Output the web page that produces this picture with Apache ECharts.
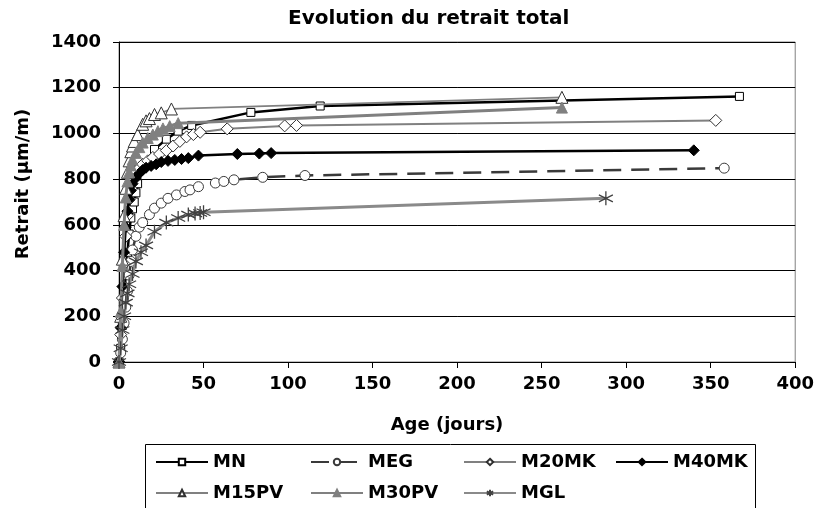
<!DOCTYPE html>
<html>
<head>
<meta charset="utf-8">
<script src="https://cdn.jsdelivr.net/npm/echarts@6/dist/echarts.min.js"></script>
<style>
  html, body { margin: 0; padding: 0; background: #fff; }
  #chart { width: 817px; height: 508px; }
</style>
</head>
<body>
<div id="chart"></div>
<script>
// ---------- data ----------
const seriesNames = ['MN', 'MEG', 'M20MK', 'M40MK', 'M15PV', 'M30PV', 'MGL'];

const mnDays   = [0, 1, 2, 3, 4, 5, 6, 7, 8, 9, 10, 11, 14, 21, 28, 35, 43, 78, 119, 367];
const mnVals   = [0, 60, 160, 280, 380, 480, 560, 630, 670, 700, 740, 780, 850, 930, 975, 1010, 1035, 1092, 1120, 1162];

const megDays  = [0, 1, 2, 3, 4, 5, 6, 7, 8, 10, 12, 14, 18, 21, 25, 29, 34, 39, 42, 47, 57, 62, 68, 85, 110, 358];
const megVals  = [0, 40, 100, 170, 240, 310, 380, 440, 490, 550, 590, 610, 645, 673, 695, 716, 731, 746, 753, 767, 783, 790, 797, 808, 816, 848];

const m20Days  = [0, 1, 2, 3, 4, 5, 6, 7, 8, 10, 12, 14, 17, 20, 24, 28, 32, 36, 40, 44, 48, 64, 98, 105, 353];
const m20Vals  = [0, 120, 280, 430, 550, 640, 710, 760, 800, 830, 850, 865, 880, 895, 910, 925, 945, 965, 985, 995, 1005, 1020, 1033, 1035, 1057];

const m40Days  = [0, 1, 2, 3, 4, 5, 6, 7, 8, 10, 12, 14, 16, 19, 22, 25, 29, 33, 37, 41, 47, 70, 83, 90, 340];
const m40Vals  = [0, 150, 330, 480, 590, 660, 710, 750, 780, 805, 825, 840, 850, 858, 865, 875, 880, 884, 888, 892, 903, 910, 912, 914, 926];

const m15Days  = [0, 1, 2, 3, 4, 5, 6, 7, 8, 9, 11, 14, 16, 18, 21, 25, 31, 262];
const m15Vals  = [0, 200, 450, 640, 760, 830, 880, 920, 945, 965, 995, 1040, 1055, 1065, 1083, 1090, 1107, 1158];

const m30Days  = [0, 1, 2, 3, 4, 5, 6, 7, 8, 10, 12, 14, 17, 20, 23, 26, 30, 35, 262];
const m30Vals  = [0, 220, 420, 600, 720, 790, 830, 860, 885, 915, 940, 960, 980, 995, 1010, 1022, 1032, 1045, 1113];

const mglDays  = [0, 1, 2, 3, 4, 5, 6, 8, 10, 13, 16, 21, 28, 35, 41, 45, 48, 50, 288];
const mglVals  = [0, 60, 140, 200, 260, 300, 340, 385, 440, 480, 510, 570, 610, 630, 645, 650, 652, 655, 716];

const xTicks = { min: 0, max: 400, step: 50 };
const yTicks = { min: 0, max: 1400, step: 200 };

// ---------- helpers ----------
function pairs(xs, ys) { return xs.map((x, i) => [x, ys[i]]); }

const FONT = 'DejaVu Sans';
const asterisk = 'path://M10 0 L10 20 M1.34 5 L18.66 15 M1.34 15 L18.66 5';

const styles = [
  { data: pairs(mnDays, mnVals),   line: { color: '#000000', width: 2.5 }, symbol: 'rect',     size: 8,  item: { color: '#ffffff', borderColor: '#000000', borderWidth: 1 } },
  { data: pairs(megDays, megVals), line: { color: '#3a3a3a', width: 2.5, type: [18, 10] }, symbol: 'circle', size: 10, item: { color: '#ffffff', borderColor: '#3a3a3a', borderWidth: 1 } },
  { data: pairs(m20Days, m20Vals), line: { color: '#808080', width: 2 },   symbol: 'diamond',  size: 12, item: { color: '#ffffff', borderColor: '#303030', borderWidth: 1 } },
  { data: pairs(m40Days, m40Vals), line: { color: '#000000', width: 2.5 }, symbol: 'diamond',  size: 11, item: { color: '#000000', borderColor: '#000000', borderWidth: 1 } },
  { data: pairs(m15Days, m15Vals), line: { color: '#808080', width: 1.8 }, symbol: 'triangle', size: 12, item: { color: '#ffffff', borderColor: '#303030', borderWidth: 1 } },
  { data: pairs(m30Days, m30Vals), line: { color: '#808080', width: 3 },   symbol: 'triangle', size: 11, item: { color: '#808080', borderColor: '#808080', borderWidth: 1 } },
  { data: pairs(mglDays, mglVals), line: { color: '#8a8a8a', width: 3 },   symbol: asterisk,   size: 14, item: { color: 'rgba(0,0,0,0)', borderColor: '#404040', borderWidth: 1.3 } }
];

const series = seriesNames.map((name, i) => ({
  name: name,
  type: 'line',
  data: styles[i].data,
  symbol: styles[i].symbol,
  symbolSize: styles[i].size,
  showSymbol: true,
  showAllSymbol: true,
  lineStyle: styles[i].line,
  itemStyle: styles[i].item,
  emphasis: { disabled: true },
  z: 2 + i
}));

const legendCols = [155, 310, 463, 615];
const legendRows = [453, 484];
const legends = seriesNames.map((name, i) => ({
  data: [name],
  left: legendCols[i % 4],
  top: legendRows[Math.floor(i / 4)],
  padding: 0,
  itemWidth: 52,
  itemHeight: 8,
  itemGap: 0,
  selectedMode: false,
  textStyle: { fontFamily: FONT, fontWeight: 'bold', fontSize: 18, color: '#000' }
}));

const chart = echarts.init(document.getElementById('chart'), null, { renderer: 'canvas' });
chart.setOption({
  animation: false,
  backgroundColor: '#ffffff',
  title: {
    text: 'Evolution du retrait total',
    left: 288,
    top: 9,
    padding: 0,
    textStyle: { fontFamily: FONT, fontWeight: 'bold', fontSize: 20, color: '#000' }
  },
  grid: {
    left: 119, right: 20, top: 42, bottom: 146,
    show: true, borderColor: '#808080', borderWidth: 1, backgroundColor: '#ffffff'
  },
  legend: legends,
  xAxis: {
    type: 'value',
    min: xTicks.min, max: xTicks.max, interval: xTicks.step,
    axisLine: { show: true, onZero: false, lineStyle: { color: '#000', width: 1 } },
    axisTick: { show: true, length: 6, lineStyle: { color: '#000' } },
    axisLabel: { margin: 13, fontFamily: FONT, fontWeight: 'bold', fontSize: 18, color: '#000', formatter: v => String(v) },
    splitLine: { show: false }
  },
  yAxis: {
    type: 'value',
    min: yTicks.min, max: yTicks.max, interval: yTicks.step,
    axisLine: { show: true, onZero: false, lineStyle: { color: '#000', width: 1 } },
    axisTick: { show: true, length: 6, lineStyle: { color: '#000' } },
    axisLabel: { margin: 18, fontFamily: FONT, fontWeight: 'bold', fontSize: 18, color: '#000', formatter: v => String(v) },
    splitLine: { show: true, lineStyle: { color: '#000', width: 1 } }
  },
  graphic: [
    {
      type: 'text', x: 447, y: 425,
      style: { text: 'Age (jours)', font: 'bold 18px "DejaVu Sans"', fill: '#000', align: 'center', verticalAlign: 'middle' }
    },
    {
      type: 'text', x: 23, y: 184, rotation: Math.PI / 2,
      style: { text: 'Retrait (µm/m)', font: 'bold 18px "DejaVu Sans"', fill: '#000', align: 'center', verticalAlign: 'middle' }
    },
    {
      type: 'rect', z: -1,
      shape: { x: 145.5, y: 444.5, width: 610, height: 80 },
      style: { fill: '#fff', stroke: '#000', lineWidth: 1 }
    }
  ],
  series: series
});
</script>
</body>
</html>
